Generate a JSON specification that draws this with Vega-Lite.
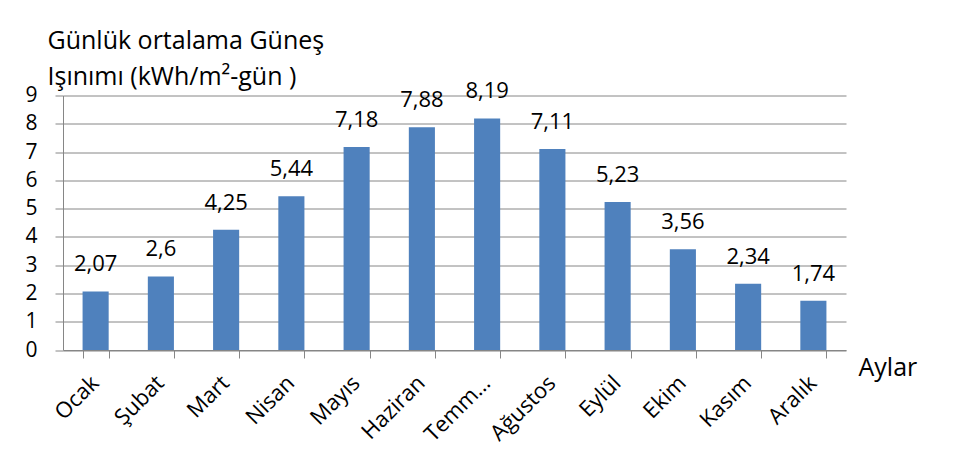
{
  "$schema": "https://vega.github.io/schema/vega-lite/v6.json",
  "width": 783,
  "height": 254.5,
  "autosize": "none",
  "padding": {"left": 63, "top": 95.5, "right": 110, "bottom": 104},
  "background": "white",
  "data": {
    "values": [
      {"ay": "Ocak", "v": 2.07},
      {"ay": "Şubat", "v": 2.6},
      {"ay": "Mart", "v": 4.25},
      {"ay": "Nisan", "v": 5.44},
      {"ay": "Mayıs", "v": 7.18},
      {"ay": "Haziran", "v": 7.88},
      {"ay": "Temmuz", "v": 8.19},
      {"ay": "Ağustos", "v": 7.11},
      {"ay": "Eylül", "v": 5.23},
      {"ay": "Ekim", "v": 3.56},
      {"ay": "Kasım", "v": 2.34},
      {"ay": "Aralık", "v": 1.74}
    ]
  },
  "transform": [
    {"calculate": "replace(format(datum.v, '~g'), '.', ',')", "as": "lbl"}
  ],
  "encoding": {
    "x": {
      "field": "ay",
      "type": "nominal",
      "sort": null,
      "scale": {"paddingInner": 0.6, "paddingOuter": 0.3},
      "axis": {
        "title": "Aylar",
        "titleAngle": 0,
        "titleX": 795,
        "titleY": 25,
        "titleAlign": "left",
        "titleBaseline": "alphabetic",
        "titleFont": "Open Sans",
        "titleFontSize": 25,
        "titleFontWeight": "normal",
        "titleColor": "black",
        "labelAngle": -45,
        "labelAlign": "right",
        "labelBaseline": "top",
        "labelFont": "Open Sans",
        "labelFontSize": 22,
        "labelColor": "black",
        "labelPadding": 14,
        "labelOffset": -8,
        "labelLimit": 300,
        "labelOverlap": false,
        "labelExpr": "datum.label == 'Temmuz' ? 'Temm…' : datum.label",
        "tickBand": "extent",
        "tickSize": 8,
        "tickColor": "#868686",
        "domainColor": "#868686",
        "grid": false
      }
    },
    "y": {
      "field": "v",
      "type": "quantitative",
      "scale": {"domain": [0, 9], "nice": false},
      "axis": {
        "title": ["Günlük ortalama Güneş", "Işınımı (kWh/m²-gün )"],
        "titleAngle": 0,
        "titleX": -16,
        "titleY": -47.5,
        "titleAlign": "left",
        "titleBaseline": "alphabetic",
        "titleLineHeight": 36,
        "titleFont": "Open Sans",
        "titleFontSize": 25,
        "titleFontWeight": "normal",
        "titleColor": "black",
        "tickCount": 10,
        "tickMinStep": 1,
        "labelOverlap": false,
        "labelFont": "Open Sans",
        "labelFontSize": 21,
        "labelColor": "black",
        "labelPadding": 18,
        "labelBaseline": "middle",
        "tickSize": 8,
        "tickColor": "#868686",
        "domainColor": "#868686",
        "gridColor": "#868686",
        "grid": true
      }
    }
  },
  "layer": [
    {
      "mark": {"type": "bar", "color": "#4F81BD"}
    },
    {
      "mark": {"type": "text", "font": "Open Sans", "fontSize": 22, "color": "black", "baseline": "alphabetic", "dy": -20},
      "encoding": {
        "text": {"field": "lbl"}
      }
    }
  ],
  "config": {"view": {"stroke": null}}
}
